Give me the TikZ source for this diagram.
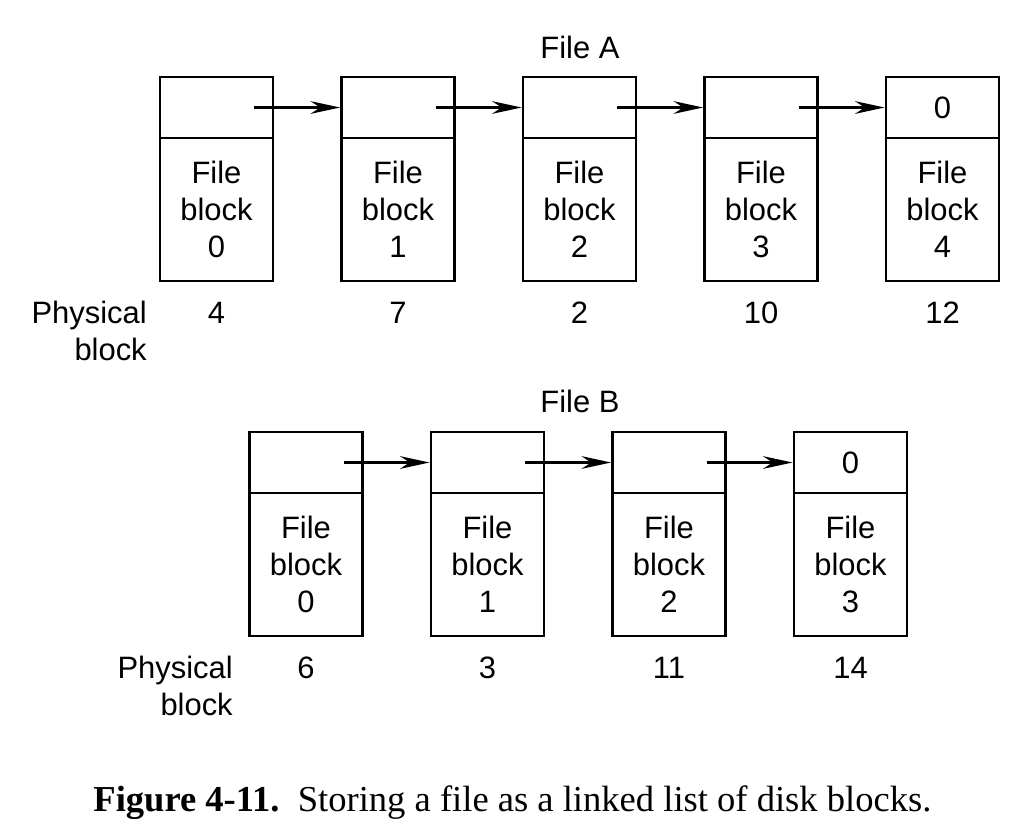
\documentclass[tikz,border=0pt]{standalone}
\usepackage{fontspec}
\setmainfont{Liberation Sans}
\newfontfamily\capfont{Liberation Serif}
\usetikzlibrary{positioning,arrows.meta}

\tikzset{
  ptrbox/.style={draw, line width=2pt, outer sep=0pt, inner sep=0pt,
    minimum width=2.825cm, minimum height=1.525cm},
  datbox/.style={draw, line width=2pt, outer sep=0pt, inner sep=0pt,
    minimum width=2.825cm, minimum height=3.575cm, align=center},
  link/.style={line width=2pt, -{Stealth[length=21pt,width=9pt]},
    shorten <=0.9375cm, shorten >=1pt},
  num/.style={inner sep=0pt},
  phys/.style={inner sep=0pt, align=right, anchor=east}
}

\begin{document}
\begin{tikzpicture}[font=\fontsize{22}{26.3}\selectfont]
    \useasboundingbox (0,0) rectangle (25.6,-20.95);

    % File A
    \node (fileA) at (14.5,-1.175) {File A};
    \node[ptrbox] (a0p) at (5.4125,-2.6875) {};
    \node[datbox, below=0pt of a0p] (a0) {File\\block\\0};
    \node[ptrbox, right=1.7125cm of a0p] (a1p) {};
    \node[datbox, below=0pt of a1p] (a1) {File\\block\\1};
    \node[ptrbox, right=1.7125cm of a1p] (a2p) {};
    \node[datbox, below=0pt of a2p] (a2) {File\\block\\2};
    \node[ptrbox, right=1.7125cm of a2p] (a3p) {};
    \node[datbox, below=0pt of a3p] (a3) {File\\block\\3};
    \node[ptrbox, right=1.7125cm of a3p] (a4p) {0};
    \node[datbox, below=0pt of a4p] (a4) {File\\block\\4};

    \draw[link] (a0p.center) -- (a1p.west);
    \draw[link] (a1p.center) -- (a2p.west);
    \draw[link] (a2p.center) -- (a3p.west);
    \draw[link] (a3p.center) -- (a4p.west);

    % Physical blocks of A
    \node[phys] (alab) at (3.675,-8.275) {Physical\\block};
    \node[num] (a0n) at ([yshift=-0.8cm]a0.south) {4};
    \node[num] (a1n) at ([yshift=-0.8cm]a1.south) {7};
    \node[num] (a2n) at ([yshift=-0.8cm]a2.south) {2};
    \node[num] (a3n) at ([yshift=-0.8cm]a3.south) {10};
    \node[num] (a4n) at ([yshift=-0.8cm]a4.south) {12};

    % File B
    \node (fileB) at (14.5,-10.025) {File B};
    \node[ptrbox] (b0p) at (7.65,-11.5625) {};
    \node[datbox, below=0pt of b0p] (b0) {File\\block\\0};
    \node[ptrbox, right=1.7125cm of b0p] (b1p) {};
    \node[datbox, below=0pt of b1p] (b1) {File\\block\\1};
    \node[ptrbox, right=1.7125cm of b1p] (b2p) {};
    \node[datbox, below=0pt of b2p] (b2) {File\\block\\2};
    \node[ptrbox, right=1.7125cm of b2p] (b3p) {0};
    \node[datbox, below=0pt of b3p] (b3) {File\\block\\3};

    \draw[link] (b0p.center) -- (b1p.west);
    \draw[link] (b1p.center) -- (b2p.west);
    \draw[link] (b2p.center) -- (b3p.west);

    % Physical blocks of B
    \node[phys] (blab) at (5.825,-17.1375) {Physical\\block};
    \node[num] (b0n) at ([yshift=-0.8cm]b0.south) {6};
    \node[num] (b1n) at ([yshift=-0.8cm]b1.south) {3};
    \node[num] (b2n) at ([yshift=-0.8cm]b2.south) {11};
    \node[num] (b3n) at ([yshift=-0.8cm]b3.south) {14};

    % Caption
    \node[inner sep=0pt] (caption) at (12.81,-20.06) {\capfont\fontsize{26}{30}\selectfont
      \textbf{Figure 4-11.}\ \ Storing a file as a linked list of disk blocks.};
\end{tikzpicture}
\end{document}
